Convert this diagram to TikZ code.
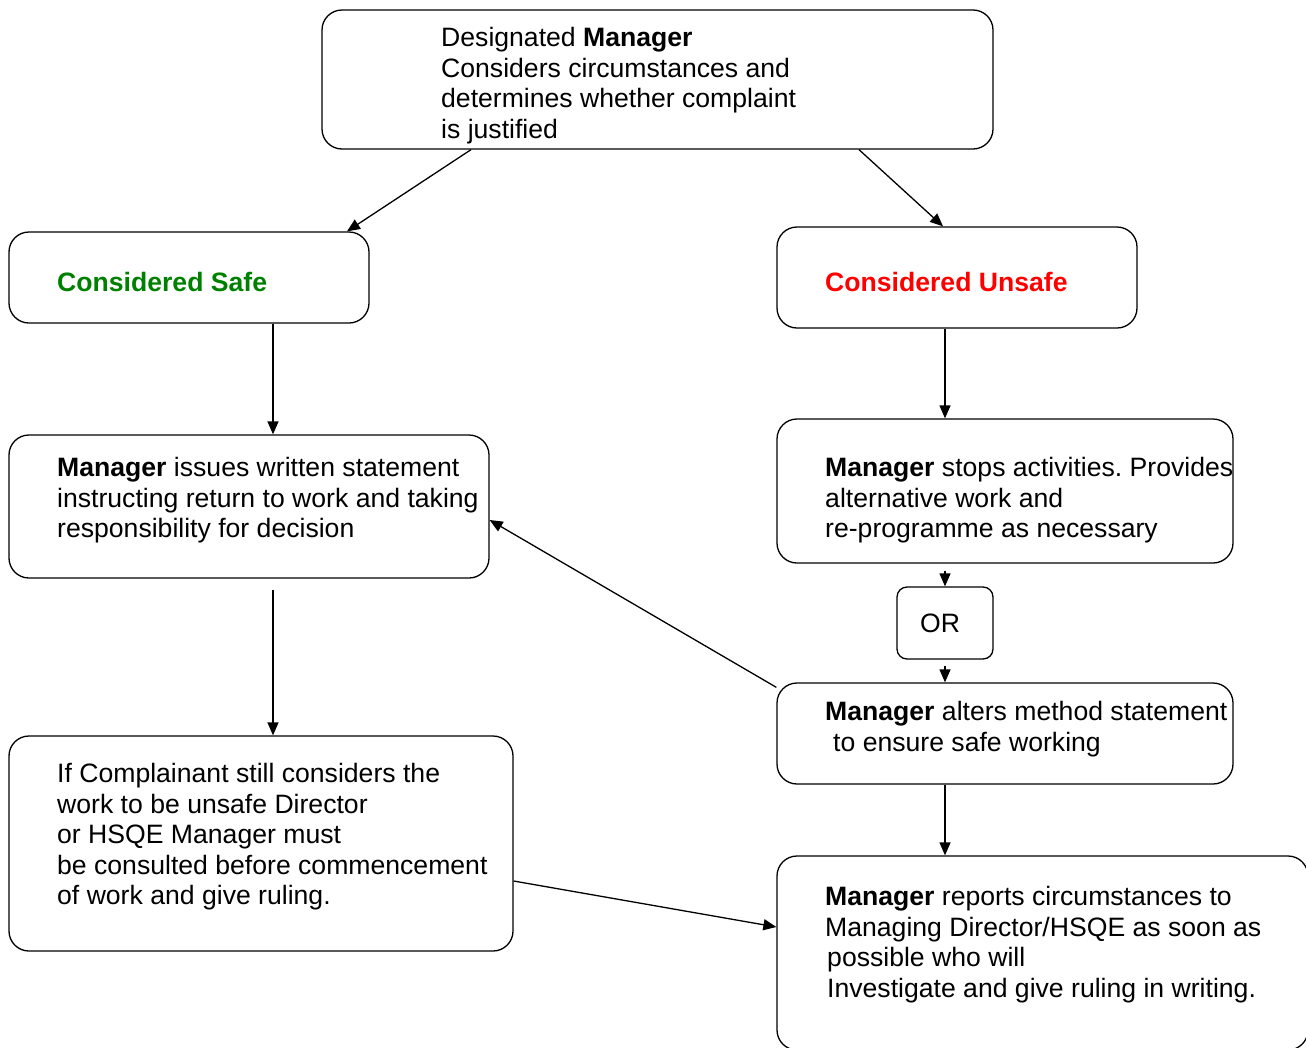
\documentclass[tikz,border=0pt]{standalone}
\usepackage{fontspec}
\setmainfont{Liberation Sans}
\usetikzlibrary{arrows.meta,calc}
\definecolor{safegreen}{RGB}{0,128,0}
\definecolor{unsafered}{RGB}{255,0,0}
\tikzset{
  box/.style={draw, line width=1.3pt, rounded corners=20pt, inner sep=0pt},
  txt/.style={anchor=north west, inner sep=0pt, align=left},
  arr/.style={-{Triangle[length=13pt,width=11pt]}, line width=1.3pt}
}
\newcommand{\mgr}{\textbf{Manager}}
\frenchspacing
\begin{document}
\begin{tikzpicture}[x=1pt,y=-1pt,font=\fontsize{26.6}{30.5}\selectfont]
\useasboundingbox (0,0) rectangle (1306,1047);
\clip (0,0) rectangle (1306,1047);

\node[box, minimum width=671pt, minimum height=139pt] (just) at (657.5,79.5) {};
\node[txt] (justtxt) at (441,25.15) {\strut Designated \textbf{Manager}\\Considers circumstances and\\determines whether complaint\\is justified};

\node[box, minimum width=360pt, minimum height=91pt] (safe) at (189,277.5) {};
\node[txt, text=safegreen, font=\fontsize{26.6}{30.5}\selectfont\bfseries] (safetxt) at (57,270.15) {\strut Considered Safe};

\node[box, minimum width=360pt, minimum height=101pt] (unsafe) at (957,277.5) {};
\node[txt, text=unsafered, font=\fontsize{26.6}{30.5}\selectfont\bfseries] (unsafetxt) at (825,270.15) {\strut Considered Unsafe};

\node[box, minimum width=480pt, minimum height=143pt] (issue) at (249,506.5) {};
\node[txt] (issuetxt) at (57,455.15) {\strut\mgr{} issues written statement\\instructing return to work and taking\\responsibility for decision};

\node[box, minimum width=456pt, minimum height=144pt] (stops) at (1005,491) {};
\node[txt] (stopstxt) at (825,455.15) {\strut\mgr{} stops activities. Provides\\alternative work and\\re-programme as necessary};

\node[box, rounded corners=10pt, minimum width=96pt, minimum height=72pt] (orbox) at (945,623) {\hspace*{-10pt}OR};

\node[box, minimum width=456pt, minimum height=101pt] (alters) at (1005,733.5) {};
\node[txt] (alterstxt) at (825,699.15) {\strut\mgr{} alters method statement\\\hspace*{8pt}to ensure safe working};

\node[box, minimum width=504pt, minimum height=215pt] (ruling) at (261,843.5) {};
\node[txt] (rulingtxt) at (57,761.15) {\strut If Complainant still considers the\\work to be unsafe Director\\or HSQE Manager must\\be consulted before commencement\\of work and give ruling.};

\node[box, minimum width=531pt, minimum height=194pt] (reports) at (1042.5,953) {};
\node[txt] (reportstxt) at (825,884.15) {\strut\mgr{} reports circumstances to\\Managing Director/HSQE as soon as\\\hspace*{2pt}possible who will\\\hspace*{2pt}Investigate and give ruling in writing.};

\draw[arr] ([xshift=-186.5pt]just.south) -- ([xshift=158pt]safe.north);
\draw[arr] ([xshift=201.5pt]just.south) -- ([xshift=-14pt]unsafe.north);
\draw[arr] ([xshift=84pt]safe.south) -- ([xshift=84pt]safe.south |- issue.north);
\draw[arr] ([xshift=-12pt]unsafe.south) -- ([xshift=-12pt]unsafe.south |- stops.north);
\draw[arr] ([xshift=24pt,yshift=-11pt]issue.south) -- ([xshift=24pt]issue.south |- ruling.north);
\draw[arr] ([yshift=-7pt]stops.south -| orbox.north) -- (orbox.north);
\draw[arr] ([yshift=-6pt]orbox.south) -- (orbox.south |- alters.north);
\draw[arr] (alters.south -| orbox.south) -- (orbox.south |- reports.north);
\draw[arr] ([yshift=-5pt]alters.north west) -- ([yshift=-13.5pt]issue.east);
\draw[arr] ([yshift=-37.5pt]ruling.east) -- ([yshift=26pt]reports.west);
\end{tikzpicture}
\end{document}
